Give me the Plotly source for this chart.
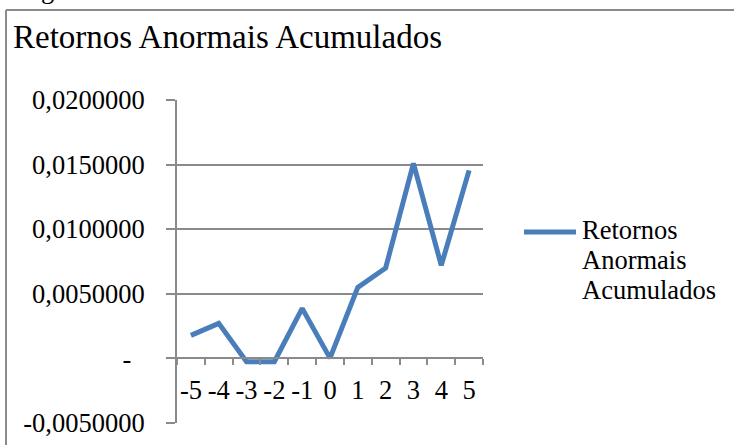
import plotly.graph_objects as go

# Event window (days relative to the event) and cumulative abnormal returns
dias = ["-5", "-4", "-3", "-2", "-1", "0", "1", "2", "3", "4", "5"]
car = [0.00178, 0.00271, -0.00025, -0.00025, 0.00387, 0.00002,
       0.00550, 0.00700, 0.01510, 0.00720, 0.01455]

y_ticks = [-0.005, 0.0, 0.005, 0.010, 0.015, 0.020]
y_ticktext = ["-0,0050000", "-\u00a0\u00a0", "0,0050000", "0,0100000",
              "0,0150000", "0,0200000"]

serie = "Retornos Anormais Acumulados"
legenda_linhas = ["Retornos", "Anormais", "Acumulados"]

W, H = 734, 445
FONT = "Liberation Serif, Times New Roman, serif"
FS = 26.5
GRID = "#8a8a8a"
BLUE = "#4a7ebb"


def px_x(p):
    return p / W


def px_y(p):
    return 1 - p / H


fig = go.Figure()
fig.add_trace(go.Scatter(
    x=dias, y=car, mode="lines", name=serie,
    line=dict(color=BLUE, width=5),
    hoverinfo="skip", showlegend=False,
))

fig.update_layout(
    width=W, height=H,
    margin=dict(l=0, r=0, t=0, b=0, autoexpand=False),
    paper_bgcolor="white", plot_bgcolor="white",
    font=dict(family=FONT, size=FS, color="black"),
    xaxis=dict(
        type="category",
        range=[-0.5, len(dias) - 0.5],
        domain=[px_x(177), px_x(483)],
        anchor="free", position=px_y(358),
        automargin=False,
        tickmode="array", tickvals=dias, ticktext=dias, tickangle=0,
        showgrid=False, zeroline=False,
        showline=True, linecolor=GRID, linewidth=2,
        ticks="outside", ticklen=6, tickwidth=2, tickcolor=GRID,
        tickson="boundaries",
        tickfont=dict(family=FONT, size=FS, color="black"),
        ticklabelstandoff=8,
        fixedrange=True,
    ),
    yaxis=dict(
        range=[-0.005, 0.02],
        domain=[px_y(423), px_y(100)],
        automargin=False,
        tickvals=y_ticks, ticktext=y_ticktext,
        showgrid=True, gridcolor=GRID, gridwidth=2,
        zeroline=False,
        showline=True, linecolor=GRID, linewidth=2,
        ticks="outside", ticklen=9, tickwidth=2, tickcolor=GRID,
        tickfont=dict(family=FONT, size=FS, color="black"),
        ticklabelstandoff=16,
        fixedrange=True,
    ),
)

# Chart frame (left and top edges)
fig.add_shape(type="line", xref="paper", yref="paper",
              x0=px_x(6), x1=px_x(6), y0=px_y(10), y1=px_y(460),
              line=dict(color=GRID, width=2))
fig.add_shape(type="line", xref="paper", yref="paper",
              x0=px_x(6), x1=px_x(760), y0=px_y(10), y1=px_y(10),
              line=dict(color=GRID, width=2))

# Caption text above the frame
fig.add_annotation(text="Figura", xref="paper", yref="paper",
                   x=px_x(17), y=px_y(6.5), xanchor="left", yanchor="bottom",
                   showarrow=False, font=dict(family=FONT, size=FS, color="black"))

# Chart title
fig.add_annotation(text=serie, xref="paper", yref="paper",
                   x=px_x(11), y=px_y(57), xanchor="left", yanchor="bottom",
                   showarrow=False, font=dict(family=FONT, size=33, color="black"))

# Legend: line sample plus wrapped series name
fig.add_shape(type="line", xref="paper", yref="paper",
              x0=px_x(524), x1=px_x(576), y0=px_y(232), y1=px_y(232),
              line=dict(color=BLUE, width=5))
for i, linha in enumerate(legenda_linhas):
    fig.add_annotation(text=linha, xref="paper", yref="paper",
                       x=px_x(580), y=px_y(246.6 + 30 * i),
                       xanchor="left", yanchor="bottom", align="left",
                       showarrow=False,
                       font=dict(family=FONT, size=FS, color="black"))

fig.write_html(
    "out.html",
    config={"displayModeBar": False, "staticPlot": True},
    post_script="document.body.style.margin='0';document.body.style.overflow='hidden';",
)
